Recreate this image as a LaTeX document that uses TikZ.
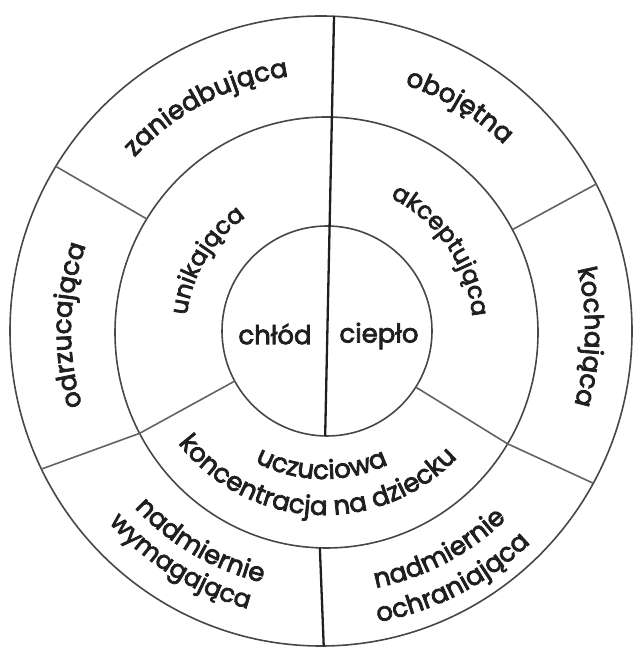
\documentclass[tikz,border=0pt]{standalone}
\usepackage{fontspec}
\newfontfamily\popp{Poppins}[FakeBold=3]
\usetikzlibrary{decorations.text,calc}
\definecolor{ink}{gray}{0.12}
\definecolor{rule}{gray}{0.28}
\tikzset{
  ring/.style={draw=rule,line width=1.6pt},
  spoke/.style={draw=rule!85,line width=1.6pt},
  axis/.style={draw=ink,line width=2.3pt},
  lbl/.style={font=\popp\fontsize{26}{30}\selectfont,text=ink,inner sep=0pt}
}
\newcommand\outtext[4]{%
  \path[decorate,decoration={text along path,text align=center,
      text={|\popp\fontsize{#3}{#3}\selectfont\color{ink}|#4}}]
    ($(C)+(#1+80:#2)$) arc[start angle=#1+80,end angle=#1-80,radius=#2];}
\newcommand\intext[4]{%
  \path[decorate,decoration={text along path,text align=center,
      text={|\popp\fontsize{#3}{#3}\selectfont\color{ink}|#4}}]
    ($(C)+(#1-80:#2)$) arc[start angle=#1-80,end angle=#1+80,radius=#2];}
\begin{document}
\begin{tikzpicture}[x=1pt,y=1pt]
\useasboundingbox (0,0) rectangle (633,652);
\coordinate (O) at (321,321);
\coordinate (M) at (326.5,319.5);
\coordinate (I) at (327,321);
\coordinate (C) at (324,321);
% circles
\draw[ring] (O) ellipse[x radius=311,y radius=315];
\draw[ring] (M) ellipse[x radius=211.5,y radius=215.5];
\draw[ring] (I) circle[radius=105];
% points
\coordinate (vtop) at ($(O)+(87.6:311 and 315)$);
\coordinate (vbot) at ($(I)+(269:105)$);
\coordinate (bvtop) at ($(M)+(268.2:211.5 and 215.5)$);
\coordinate (bvbot) at ($(O)+(270.5:311 and 315)$);
\coordinate (ulo) at ($(O)+(148.5:311 and 315)$);
\coordinate (ulm) at ($(M)+(148.2:211.5 and 215.5)$);
\coordinate (uro) at ($(O)+(27.8:311 and 315)$);
\coordinate (urm) at ($(M)+(28.5:211.5 and 215.5)$);
\coordinate (llo) at ($(O)+(206:311 and 315)$);
\coordinate (llm) at ($(M)+(207.9:211.5 and 215.5)$);
\coordinate (lli) at ($(I)+(208.5:105)$);
\coordinate (lro) at ($(O)+(-28.9:311 and 315)$);
\coordinate (lrm) at ($(M)+(-31.1:211.5 and 215.5)$);
\coordinate (lri) at ($(I)+(-32.3:105)$);
% dividers
\draw[axis] (vtop) -- (vbot);
\draw[axis] (bvtop) -- (bvbot);
\draw[spoke] (ulo) -- (ulm);
\draw[spoke] (uro) -- (urm);
\draw[spoke] (llo) -- (llm) -- (lli);
\draw[spoke] (lro) -- (lrm) -- (lri);
% centre
\node[lbl] (chlod) at (275,318) {chłód};
\node[lbl] (cieplo) at (379,316) {ciepło};
% outer ring
\outtext{117.7}{257}{26}{zaniedbująca}
\outtext{58.9}{259}{26}{obojętna}
\outtext{178.7}{253}{26}{odrzucająca}
\outtext{-1.3}{261}{26}{kochająca}
% middle ring
\outtext{149}{138}{24}{unikająca}
\outtext{34.5}{149}{24}{akceptująca}
\intext{269}{148}{26}{uczuciowa}
\intext{267}{184}{26}{koncentracja na dziecku}
% outer ring bottom
\intext{239.6}{259}{26}{nadmiernie}
\intext{238.2}{288}{25}{wymagająca}
\intext{297.8}{262}{26}{nadmiernie}
\intext{297.4}{296}{26}{ochraniająca}
\end{tikzpicture}
\end{document}
